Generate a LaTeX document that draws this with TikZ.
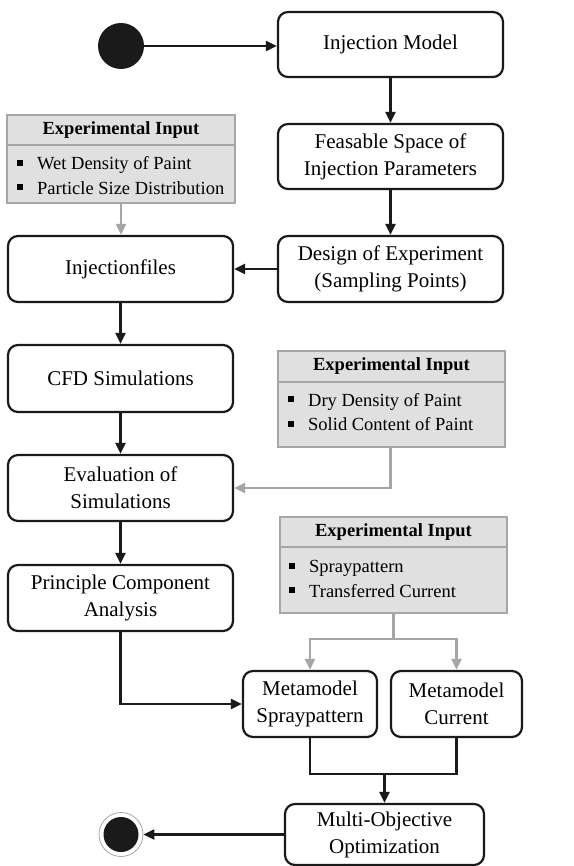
\documentclass[tikz,border=0pt]{standalone}
\usepackage{fontspec}
\setmainfont{Liberation Serif}
\usetikzlibrary{arrows.meta}
\definecolor{ink}{HTML}{1A1A1A}
\definecolor{gline}{HTML}{A6A6A6}
\definecolor{gfill}{HTML}{E0E0E0}
\newcommand{\sqbul}{\rule[4pt]{6pt}{6pt}\hspace{14pt}}
\begin{document}
\begin{tikzpicture}[x=1pt,y=-1pt,
  box/.style={draw=ink, line width=2.2pt, rounded corners=10pt, minimum width=225pt, minimum height=66pt, align=center, font=\fontsize{21}{27}\selectfont, inner sep=2pt},
  arr/.style={draw=ink, line width=2.2pt, -{Triangle[length=11pt,width=10pt]}},
  line/.style={draw=ink, line width=2.2pt},
  garr/.style={draw=gline, line width=2.2pt, -{Triangle[length=11pt,width=10pt]}},
  gline/.style={draw=gline, line width=2.2pt},
  ehead/.style={draw=gline, fill=gfill, line width=2.2pt, minimum width=228pt, minimum height=30pt, inner sep=0pt, font=\fontsize{18.5}{22}\selectfont\bfseries},
  ebody/.style={draw=gline, fill=gfill, line width=2.2pt, minimum width=228pt, inner sep=0pt},
  elist/.style={align=left, font=\fontsize{18.5}{24.5}\selectfont, inner sep=0pt, anchor=west}
]
\useasboundingbox (0,0) rectangle (573,866);

% start / end
\node[circle, fill=ink, minimum size=46pt, inner sep=0pt] (start) at (121,46) {};
\node[circle, draw=gline, line width=0.8pt, minimum size=44pt, inner sep=0pt] (endc) at (121,834.5) {};
\fill[ink] (endc.center) circle (17.5pt);

% main boxes
\node[box, minimum height=65pt] (inj) at (390.5,44.5) {Injection Model};
\node[box, minimum height=65pt] (feas) at (390.5,156.5) {Feasable Space of\\Injection Parameters};
\node[box] (doe) at (390.5,269) {Design of Experiment\\(Sampling Points)};
\node[box] (injf) at (120.5,269) {Injectionfiles};
\node[box, minimum height=67pt] (cfd) at (120.5,378.5) {CFD Simulations};
\node[box] (eval) at (120.5,488) {Evaluation of\\Simulations};
\node[box] (pca) at (120.5,598) {Principle Component\\Analysis};
\node[box, minimum width=134pt] (ms) at (310,704) {Metamodel\\Spraypattern};
\node[box, minimum width=131pt] (mc) at (456.5,704) {Metamodel\\Current};
\node[box, minimum width=199pt, minimum height=61pt] (mo) at (384.5,834.5) {Multi-Objective\\Optimization};

% experimental input 1
\node[ebody, minimum height=58pt] (e1b) at (121,174) {};
\node[ehead] (e1h) at (121,130) {Experimental Input};
\node[elist] (e1l) at (17,175.5) {\sqbul Wet Density of Paint\\\sqbul Particle Size Distribution};

% experimental input 2
\node[ebody, minimum width=227pt, minimum height=65pt] (e2b) at (391.5,414.5) {};
\node[ehead, minimum width=227pt, minimum height=31pt] (e2h) at (391.5,366.5) {Experimental Input};
\node[elist] (e2l) at (288,412) {\sqbul Dry Density of Paint\\\sqbul Solid Content of Paint};

% experimental input 3
\node[ebody, minimum width=227pt, minimum height=66pt] (e3b) at (393.5,580) {};
\node[ehead, minimum width=227pt] (e3h) at (393.5,532) {Experimental Input};
\node[elist] (e3l) at (289,579) {\sqbul Spraypattern\\\sqbul Transferred Current};

% connectors
\draw[arr] (start.east) -- (start.east -| inj.west);
\draw[arr] (inj) -- (feas);
\draw[arr] (feas) -- (doe);
\draw[arr] (doe.west) -- (injf.east);
\draw[garr] (e1b.south) -- (e1b.south |- injf.north);
\draw[arr] (injf) -- (cfd);
\draw[arr] (cfd) -- (eval);
\draw[arr] (eval) -- (pca);
\draw[garr] (e2b.south -| doe.south) |- (eval.east);
\coordinate (split) at (393.5,639);
\draw[gline] (e3b.south) -- (split);
\draw[garr] (split) -| (ms.north);
\draw[garr] (split) -| (mc.north);
\draw[arr] (pca.south) |- (ms.west);
\coordinate (merge) at (384.5,774);
\draw[line] (ms.south) |- (merge) -| (mc.south);
\draw[arr] (merge) -- (mo.north);
\draw[arr] (mo.west) -- (endc.east);
\end{tikzpicture}
\end{document}
